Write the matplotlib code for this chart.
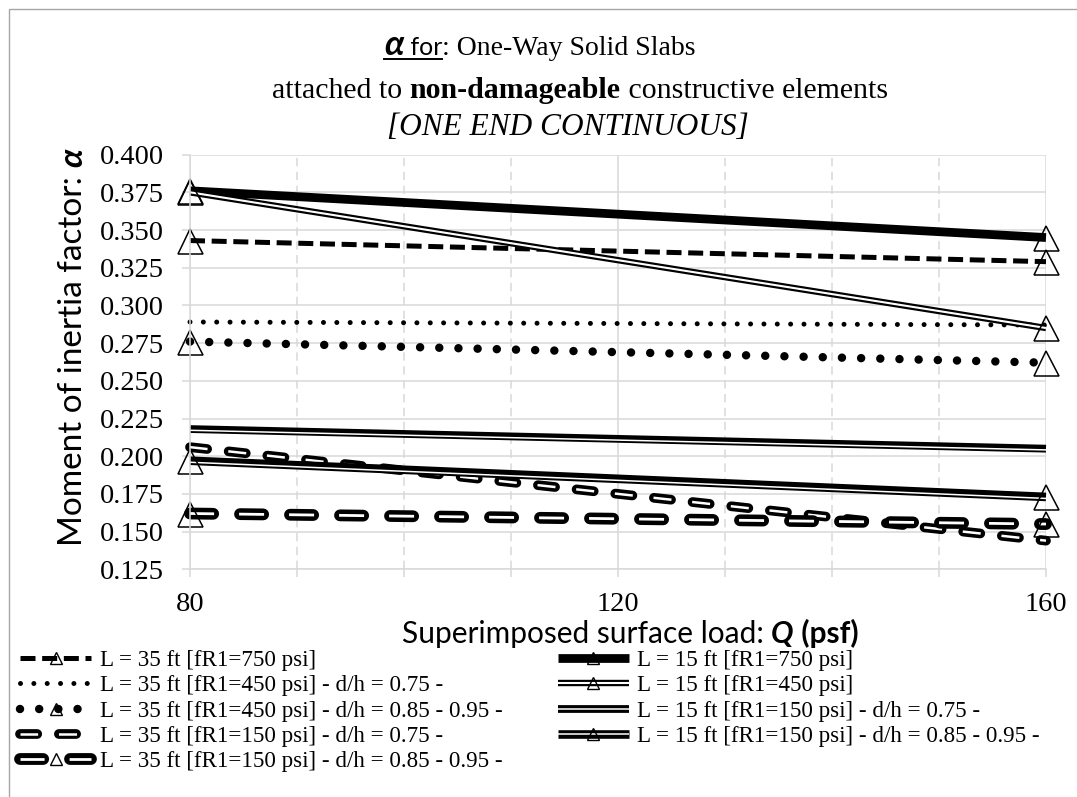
import matplotlib
matplotlib.use('Agg')
import matplotlib.pyplot as plt
from matplotlib.lines import Line2D
from matplotlib.ticker import MultipleLocator, FormatStrFormatter
from matplotlib.legend_handler import HandlerTuple
from matplotlib.transforms import offset_copy

plt.rcParams['lines.scale_dashes'] = False

# data
load = [80, 160]
a35_750 = [0.343, 0.329]
a35_450_075 = [0.289, 0.287]
a35_450_085 = [0.276, 0.262]
a35_150_075 = [0.206, 0.144]
a35_150_085 = [0.162, 0.155]
a15_750 = [0.376, 0.345]
a15_450 = [0.375, 0.285]
a15_150_075 = [0.218, 0.205]
a15_150_085 = [0.197, 0.173]

labels = [
    'L = 35 ft [fR1=750 psi]',
    'L = 35 ft [fR1=450 psi] - d/h = 0.75 -',
    'L = 35 ft [fR1=450 psi] - d/h = 0.85 - 0.95 -',
    'L = 35 ft [fR1=150 psi] - d/h = 0.75 -',
    'L = 35 ft [fR1=150 psi] - d/h = 0.85 - 0.95 -',
    'L = 15 ft [fR1=750 psi]',
    'L = 15 ft [fR1=450 psi]',
    'L = 15 ft [fR1=150 psi] - d/h = 0.75 -',
    'L = 15 ft [fR1=150 psi] - d/h = 0.85 - 0.95 -',
]
values = [a35_750, a35_450_075, a35_450_085, a35_150_075, a35_150_085,
          a15_750, a15_450, a15_150_075, a15_150_085]

# line layers (black body, optional white core, dy = core shift in pt)
# and whether a triangle marker is used
K, Wt = 'black', 'white'
styles = [
    ([dict(color=K, lw=3.6, ls=(0, (10.8, 4.8)), dash_capstyle='butt')], True),
    ([dict(color=K, lw=3.6, ls=(0, (0.01, 9.6)), dash_capstyle='round')], False),
    ([dict(color=K, lw=6.1, ls=(0, (0.01, 13.8)), dash_capstyle='round')], True),
    ([dict(color=K, lw=7.0, ls=(0, (12.4, 15.6)), dash_capstyle='round'),
      dict(color=Wt, lw=1.8, ls=(0.3, (13.0, 15.0)), dash_capstyle='butt')], False),
    ([dict(color=K, lw=8.5, ls=(0, (16.7, 19.3)), dash_capstyle='round'),
      dict(color=Wt, lw=2.0, ls=(0.65, (18.0, 18.0)), dash_capstyle='butt')], True),
    ([dict(color=K, lw=6.3, solid_capstyle='butt')], True),
    ([dict(color=K, lw=4.6, solid_capstyle='butt'),
      dict(color=Wt, lw=1.5, solid_capstyle='butt')], True),
    ([dict(color=K, lw=5.6, solid_capstyle='butt'),
      dict(color=Wt, lw=1.1, solid_capstyle='butt', dy=-0.9)], False),
    ([dict(color=K, lw=6.2, solid_capstyle='butt'),
      dict(color=Wt, lw=1.1, solid_capstyle='butt', dy=-1.1)], True),
]

W, H = 1077, 797
SERIF = 'Liberation Serif'
SANS = ['Lato', 'DejaVu Sans']
GRID = '#d9d9d9'


def rich_text(fig, x, y, pieces, rotation=0):
    """Draw text pieces with mixed fonts, centred on (x, y) in image pixels (y from top)."""
    renderer = fig.canvas.get_renderer()
    widths = []
    for s, kw in pieces:
        t1 = fig.text(0, 0, '|' + s + '|', **kw)
        t2 = fig.text(0, 0, '||', **kw)
        widths.append(t1.get_window_extent(renderer).width
                      - t2.get_window_extent(renderer).width)
        t1.remove()
        t2.remove()
    pos = -sum(widths) / 2
    spans = []
    for (s, kw), w in zip(pieces, widths):
        if rotation == 90:
            xx, yy = x, (H - y) + pos
        else:
            xx, yy = x + pos, H - y
        fig.text(xx / W, yy / H, s, ha='left', va='baseline',
                 rotation=rotation, rotation_mode='anchor', **kw)
        spans.append((pos, pos + w))
        pos += w
    return spans


fig = plt.figure(figsize=(W / 100, H / 100), dpi=100)
fig.canvas.draw()

ax = fig.add_axes([190 / W, 1 - 569.3 / H, (1046 - 190) / W, (569.3 - 154.6) / H])
ax.set_xlim(80, 160)
ax.set_ylim(0.125, 0.400)
ax.xaxis.set_major_locator(MultipleLocator(40))
ax.xaxis.set_minor_locator(MultipleLocator(10))
ax.yaxis.set_major_locator(MultipleLocator(0.025))
ax.yaxis.set_major_formatter(FormatStrFormatter('%.3f'))
ax.set_axisbelow(True)
ax.grid(which='major', color=GRID, lw=1.1)
ax.grid(which='minor', axis='x', color=GRID, lw=1.1, ls=(0, (6, 4)))
for side in ['top', 'right']:
    ax.spines[side].set_visible(False)
for side in ['left', 'bottom']:
    ax.spines[side].set_color(GRID)
    ax.spines[side].set_linewidth(1.1)
ax.tick_params(which='both', direction='out', color=GRID, length=5.5, width=1.1)
ax.tick_params(axis='x', which='minor', labelbottom=False)
ax.tick_params(axis='x', pad=11)
ax.tick_params(axis='y', pad=13)
for lab in ax.get_xticklabels() + ax.get_yticklabels():
    lab.set_fontfamily(SERIF)
    lab.set_fontsize(20.5)
    lab.set_color('black')

handles = []
for vals, (layers, tri) in zip(values, styles):
    proxy = []
    for lay in layers:
        lay = dict(lay)
        dy = lay.pop('dy', 0)
        tr = offset_copy(ax.transData, fig=fig, x=0, y=dy, units='points')
        ax.plot(load, vals, clip_on=False, transform=tr, **lay)
        proxy.append(Line2D([], [], **lay))
    if tri:
        ax.plot(load, vals, ls='none', marker='^', ms=18, mfc='none',
                mec=K, mew=1.1, clip_on=False)
        proxy.append(Line2D([], [], ls='none', marker='^', ms=9, mfc='none',
                            mec=K, mew=1.0))
    handles.append(tuple(proxy))

fig.legend(handles, labels, ncol=2, loc='upper left',
           bbox_to_anchor=(20 / W, 1 - 650 / H), frameon=False,
           borderpad=0, borderaxespad=0, handlelength=3.1, handletextpad=0.35,
           labelspacing=0.18, columnspacing=2.4,
           handler_map={tuple: HandlerTuple(ndivide=1)},
           prop=dict(family=SERIF, size=16.6))

# title
spans = rich_text(fig, 540, 55, [
    ('α', dict(family=SANS, size=25, weight='bold', style='italic')),
    (' for', dict(family=SANS, size=18)),
    (': One-Way Solid Slabs', dict(family=SERIF, size=20)),
])
fig.add_artist(Line2D([(540 + spans[0][0]) / W, (540 + spans[1][1]) / W],
                      [1 - 59 / H, 1 - 59 / H], color=K, lw=1.4))
rich_text(fig, 580, 98, [
    ('attached to ', dict(family=SERIF, size=21.5)),
    ('non-damageable', dict(family=SERIF, size=21.5, weight='bold')),
    (' constructive elements', dict(family=SERIF, size=21.5)),
])
rich_text(fig, 568, 135, [
    ('[ONE END CONTINUOUS]', dict(family=SERIF, size=22.5, style='italic')),
])

# axis titles
rich_text(fig, 630, 643, [
    ('Superimposed surface load: ', dict(family=SANS, size=21.5)),
    ('Q', dict(family=SANS, size=21.5, weight='bold', style='italic')),
    (' (psf)', dict(family=SANS, size=21.5, weight='bold')),
])
rich_text(fig, 82, 347, [
    ('Moment of inertia factor: ', dict(family=SANS, size=24)),
    ('α', dict(family=SANS, size=24, weight='bold', style='italic')),
], rotation=90)

# chart area border
fig.add_artist(Line2D([8.5 / W, 8.5 / W, 1.0], [0, 1 - 8.5 / H, 1 - 8.5 / H],
                      color='#a6a6a6', lw=1.0))

fig.savefig('out.png', dpi=100)
